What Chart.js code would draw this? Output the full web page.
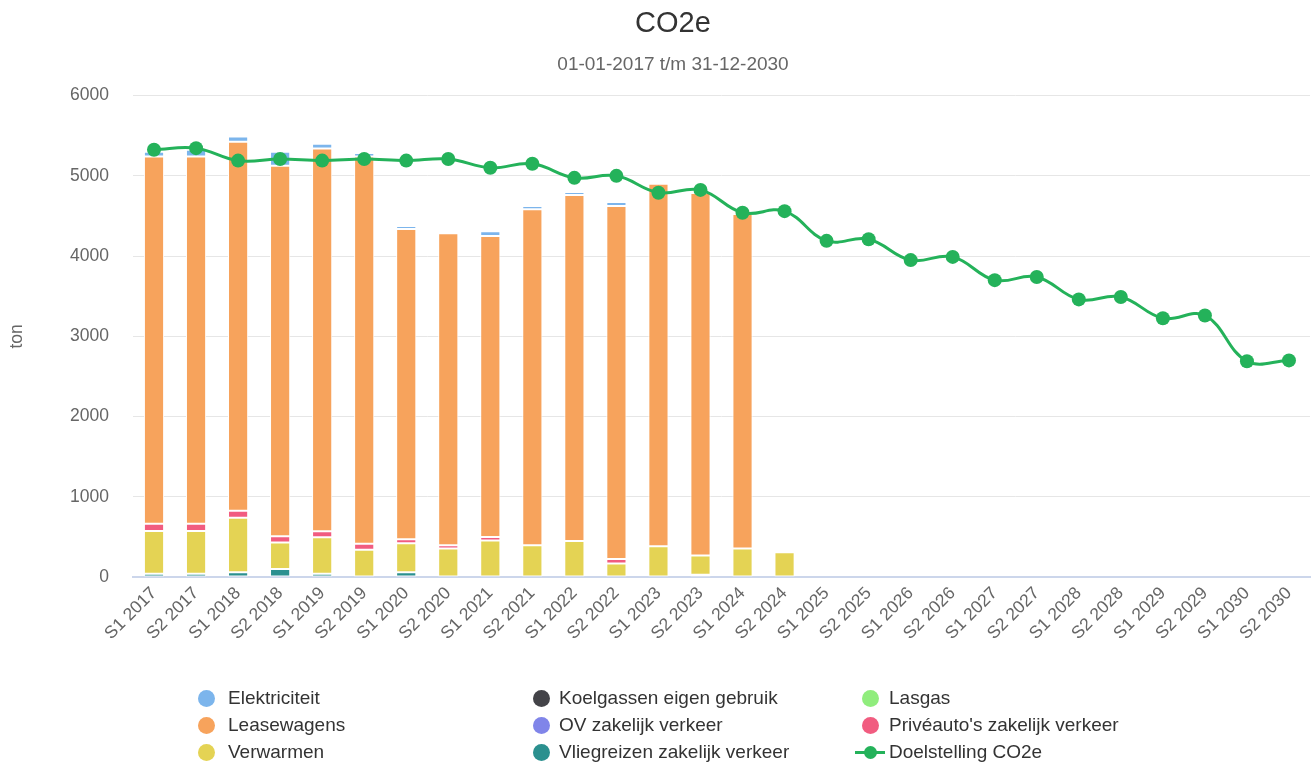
<!DOCTYPE html>
<html>
<head>
<meta charset="utf-8">
<script src="https://cdn.jsdelivr.net/npm/chart.js@4"></script>
<style>
  html, body { margin: 0; padding: 0; background: #fff; overflow: hidden; }
  #wrap { position: relative; width: 1311px; height: 762px; }
  #myChart { display: block; }
  #legend { position: absolute; left: 0; top: 0; width: 1311px; height: 762px; pointer-events: none;
            font-family: "Liberation Sans", Arial, sans-serif; font-size: 19px; color: #333; }
  .sym { position: absolute; width: 17px; height: 17px; border-radius: 50%; }
  .txt { position: absolute; line-height: 24px; white-space: nowrap; }
  .line { position: absolute; width: 30px; height: 3px; }
</style>
</head>
<body>
<div id="wrap">
  <canvas id="myChart"></canvas>
  <div id="legend"></div>
</div>
<script>
const categories = ['S1 2017', 'S2 2017', 'S1 2018', 'S2 2018', 'S1 2019', 'S2 2019', 'S1 2020', 'S2 2020',
  'S1 2021', 'S2 2021', 'S1 2022', 'S2 2022', 'S1 2023', 'S2 2023', 'S1 2024', 'S2 2024',
  'S1 2025', 'S2 2025', 'S1 2026', 'S2 2026', 'S1 2027', 'S2 2027', 'S1 2028', 'S2 2028',
  'S1 2029', 'S2 2029', 'S1 2030', 'S2 2030']

const vliegreizen = [40, 40, 60, 100, 40, 0, 60, 0, 0, 0, 0, 0, 0, 30, 0, 0,
  null, null, null, null, null, null, null, null, null, null, null, null]
const verwarmen = [535, 535, 680, 330, 455, 340, 360, 355, 455, 395, 450, 170, 385, 240, 355, 310,
  null, null, null, null, null, null, null, null, null, null, null, null]
const priveautos = [90, 90, 85, 80, 75, 75, 50, 40, 45, 0, 0, 55, 0, 0, 0, 0,
  null, null, null, null, null, null, null, null, null, null, null, null]
const leasewagens = [4575, 4575, 4600, 4615, 4770, 4825, 3867, 3890, 3750, 4190, 4312, 4400, 4515, 4517, 4170, 0,
  null, null, null, null, null, null, null, null, null, null, null, null]
const elektriciteit = [60, 85, 65, 175, 60, 45, 38, 0, 60, 40, 38, 50, 0, 20, 0, 0,
  null, null, null, null, null, null, null, null, null, null, null, null]
const koelgassen = new Array(28).fill(null)
const ovVerkeer = new Array(28).fill(null)
const lasgas = new Array(28).fill(null)
const doelstelling = [5325, 5345, 5190, 5210, 5190, 5210, 5190, 5210, 5100, 5150, 4975, 5000, 4790, 4825,
  4540, 4560, 4190, 4210, 3950, 3990, 3700, 3740, 3460, 3490, 3225, 3260, 2690, 2700]

const yTicks = [0, 1000, 2000, 3000, 4000, 5000, 6000]

const fontFamily = '"Liberation Sans", Arial, sans-serif'
const green = 'rgb(36, 178, 90)'

function bar(label, data, color) {
  return {
    type: 'bar', label: label, data: data, backgroundColor: color,
    borderColor: '#ffffff', borderWidth: 1, borderSkipped: false,
    stack: 'co2', order: 1,
    barPercentage: 0.48, categoryPercentage: 1
  }
}

const datasets = [
  {
    type: 'line', label: 'Doelstelling CO2e', data: doelstelling, stack: 'doel', order: 0,
    borderColor: green, backgroundColor: green, borderWidth: 3, tension: 0.4,
    pointRadius: 7, pointBorderWidth: 0, pointBackgroundColor: green
  },
  bar('Vliegreizen zakelijk verkeer', vliegreizen, '#2b908f'),
  bar('Lasgas', lasgas, '#90ed7d'),
  bar('Koelgassen eigen gebruik', koelgassen, '#434348'),
  bar('OV zakelijk verkeer', ovVerkeer, '#8085e9'),
  bar('Verwarmen', verwarmen, '#e4d354'),
  bar("Privéauto's zakelijk verkeer", priveautos, '#f15c80'),
  bar('Leasewagens', leasewagens, '#f7a35c'),
  bar('Elektriciteit', elektriciteit, '#7cb5ec')
]

const ctx = document.getElementById('myChart')
const chart = new Chart(ctx, {
  data: { labels: categories, datasets: datasets },
  options: {
    responsive: true,
    maintainAspectRatio: false,
    animation: false,
    // the title block in the original sits a little right of the page centre
    layout: { autoPadding: false, padding: { left: 36, right: 1, top: 0, bottom: 112 } },
    plugins: {
      legend: { display: false },
      tooltip: { enabled: false },
      title: {
        display: true, text: 'CO2e', color: '#333333',
        font: { family: fontFamily, size: 29, weight: 'normal' },
        padding: { top: 7, bottom: 0 }
      },
      subtitle: {
        display: true, text: '01-01-2017 t/m 31-12-2030', color: '#666666',
        font: { family: fontFamily, size: 19 },
        padding: { top: 12, bottom: 19 }
      }
    },
    scales: {
      x: {
        stacked: true,
        grid: { display: false, drawTicks: false },
        border: { color: '#ccd6eb', width: 2 },
        ticks: {
          color: '#666666', font: { family: fontFamily, size: 17.5 },
          maxRotation: 45, minRotation: 45, autoSkip: false, padding: 6
        },
        afterFit: axis => { axis.paddingLeft = 0; axis.paddingRight = 0 }
      },
      y: {
        stacked: true,
        min: 0, max: 6000,
        afterBuildTicks: axis => { axis.ticks = yTicks.map(v => ({ value: v })) },
        afterFit: axis => { axis.width = 97 },
        grid: { color: '#e6e6e6', drawTicks: false },
        border: { display: false },
        ticks: {
          color: '#666666', font: { family: fontFamily, size: 17.5 }, padding: 24,
          callback: v => String(v)
        },
        title: {
          display: true, text: 'ton', color: '#666666',
          font: { family: fontFamily, size: 17.5 }, padding: { top: -29.5, bottom: 30 }
        }
      }
    }
  }
})

// legend in three columns, like the original
const legendOrder = [
  ['Elektriciteit', 'Leasewagens', 'Verwarmen'],
  ['Koelgassen eigen gebruik', 'OV zakelijk verkeer', 'Vliegreizen zakelijk verkeer'],
  ['Lasgas', "Privéauto's zakelijk verkeer", 'Doelstelling CO2e']
]
const symX = [206, 541, 870]
const textX = [228, 559, 889]
const rowY = [698, 725, 752]
const legendEl = document.getElementById('legend')
legendOrder.forEach((col, c) => {
  col.forEach((name, r) => {
    const ds = datasets.find(d => d.label === name)
    if (ds.type === 'line') {
      const ln = document.createElement('div')
      ln.className = 'line'
      ln.style.background = ds.borderColor
      ln.style.left = (symX[c] - 15) + 'px'
      ln.style.top = (rowY[r] - 1.5) + 'px'
      legendEl.appendChild(ln)
    }
    const s = document.createElement('div')
    s.className = 'sym'
    s.style.background = ds.backgroundColor
    s.style.left = (symX[c] - 8.5) + 'px'
    s.style.top = (rowY[r] - 8.5) + 'px'
    if (ds.type === 'line') { s.style.width = '13px'; s.style.height = '13px'; s.style.left = (symX[c] - 6.5) + 'px'; s.style.top = (rowY[r] - 6.5) + 'px' }
    legendEl.appendChild(s)
    const t = document.createElement('div')
    t.className = 'txt'
    t.textContent = name
    t.style.left = textX[c] + 'px'
    t.style.top = (rowY[r] - 12) + 'px'
    legendEl.appendChild(t)
  })
})
</script>
</body>
</html>
